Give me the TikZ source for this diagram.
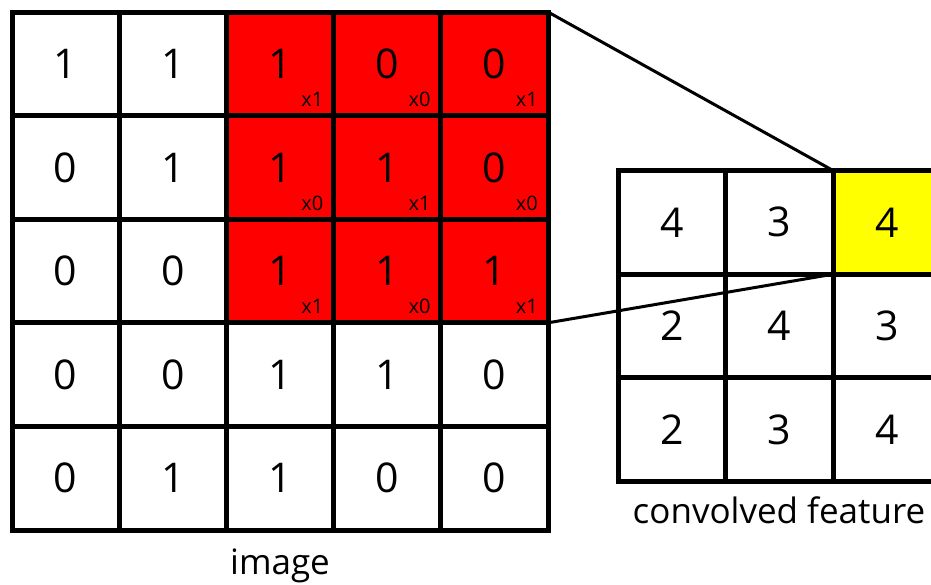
\documentclass[tikz,border=0pt]{standalone}
\usepackage{fontspec}
\setmainfont{Open Sans}
\definecolor{cellred}{RGB}{255,0,0}
\definecolor{cellyellow}{RGB}{255,255,0}
\begin{document}
\begin{tikzpicture}[x=1pt,y=-1pt,
  gridcell/.style={draw=black,line width=5pt,inner sep=0pt,outer sep=0pt,
    font=\fontsize{41}{41}\selectfont},
  imgcell/.style={gridcell,minimum width=107.2pt,minimum height=103.6pt},
  featcell/.style={gridcell,minimum width=107.5pt,minimum height=103.7pt},
  weight/.style={anchor=base east,inner sep=0pt,xshift=-10pt,yshift=9pt,
    font=\fontsize{20}{20}\selectfont},
  link/.style={draw=black,line width=3pt},
  caption/.style={anchor=base,inner sep=0pt,font=\fontsize{35}{35}\selectfont}]
\useasboundingbox (0,0) rectangle (931,584);
\clip (0,0) rectangle (931,584);
\fill[white] (0,0) rectangle (931,584);
% image grid
\foreach \v [count=\i from 0] in {1,1,1,0,0, 0,1,1,1,0, 0,0,1,1,1, 0,0,1,1,0, 0,1,1,0,0}{
  \pgfmathtruncatemacro{\r}{int(\i/5)+1}
  \pgfmathtruncatemacro{\c}{mod(\i,5)+1}
  \pgfmathtruncatemacro{\isred}{(\r<4)&&(\c>2)}
  \ifnum\isred=1
    \def\cellfill{cellred}
  \else
    \def\cellfill{white}
  \fi
  \node[imgcell,fill=\cellfill] (L-\r-\c) at ({12+(\c-0.5)*107.2},{12+(\r-0.5)*103.6}) {\v};
  \ifnum\isred=1
    \pgfmathtruncatemacro{\w}{mod(\r+\c+1,2)}
    \node[weight] (W-\r-\c) at (L-\r-\c.south east) {x\w};
  \fi
}
% convolved feature grid
\foreach \v [count=\i from 0] in {4,3,4, 2,4,3, 2,3,4}{
  \pgfmathtruncatemacro{\r}{int(\i/3)+1}
  \pgfmathtruncatemacro{\c}{mod(\i,3)+1}
  \pgfmathtruncatemacro{\isyel}{(\r==1)&&(\c==3)}
  \ifnum\isyel=1
    \def\cellfill{cellyellow}
  \else
    \def\cellfill{white}
  \fi
  \node[featcell,fill=\cellfill] (F-\r-\c) at ({618+(\c-0.5)*107.5},{170.5+(\r-0.5)*103.7}) {\v};
}
% connectors
\draw[link] (L-1-5.north east) -- (F-1-3.north west);
\draw[link] (L-3-5.south east) -- (F-1-3.south west);
% captions
\node[caption] (imglabel) at (280,574) {image};
\node[caption] (featlabel) at (779,523) {convolved feature};
\end{tikzpicture}
\end{document}
